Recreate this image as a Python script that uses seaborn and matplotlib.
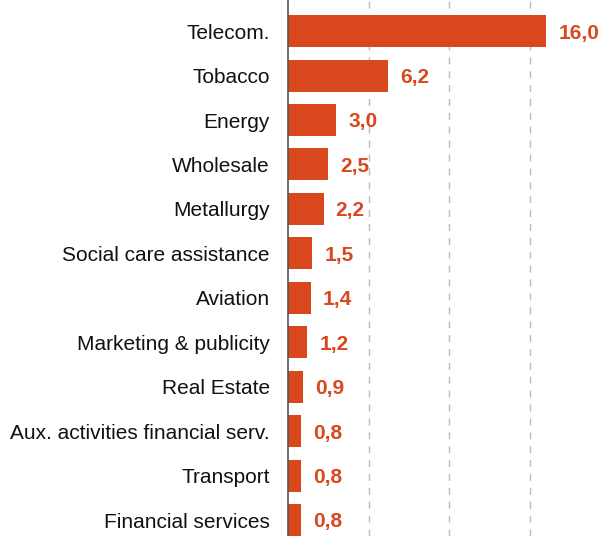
import matplotlib
matplotlib.use("Agg")
import matplotlib.pyplot as plt
import seaborn as sns
import pandas as pd

# Données
sectors = ["Telecom.", "Tobacco", "Energy", "Wholesale", "Metallurgy",
           "Social care assistance", "Aviation", "Marketing & publicity",
           "Real Estate", "Aux. activities financial serv.", "Transport",
           "Financial services"]
values = [16.0, 6.2, 3.0, 2.5, 2.2, 1.5, 1.4, 1.2, 0.9, 0.8, 0.8, 0.8]

df = pd.DataFrame({"sector": sectors, "value": values})

BAR_COLOR = "#D9471C"

sns.set_style("white")
plt.rcParams["font.family"] = ["Liberation Sans", "DejaVu Sans"]

fig = plt.figure(figsize=(5.98, 5.36), dpi=100)
ax = fig.add_axes([288 / 598, 0, 1 - 288 / 598, 1])

sns.barplot(data=df, y="sector", x="value", orient="h", color=BAR_COLOR,
            saturation=1, width=0.72, linewidth=0, ax=ax, zorder=3)

# Étiquettes de valeurs
for i, v in enumerate(values):
    ax.text(v + 0.75, i, f"{v:.1f}".replace(".", ","), va="center_baseline",
            ha="left", fontsize=15, fontweight="bold", color=BAR_COLOR)

ax.set_xlim(0, 19.2)
ax.set_ylim(11.36, -0.70)
ax.set_xticks([5, 10, 15])
ax.set_xticklabels([])
ax.tick_params(axis="x", length=0)
ax.tick_params(axis="y", length=0, pad=13, labelsize=15, labelcolor="#111111")
ax.grid(axis="x", color="#bbbbbb", linestyle=(0, (5, 5)), linewidth=1, zorder=0)
ax.set_xlabel("")
ax.set_ylabel("")

for side in ["top", "right", "bottom"]:
    ax.spines[side].set_visible(False)
ax.spines["left"].set_color("#555555")
ax.spines["left"].set_linewidth(1.2)
ax.spines["left"].set_zorder(4)

fig.savefig("out.png", dpi=100)
plt.close(fig)
